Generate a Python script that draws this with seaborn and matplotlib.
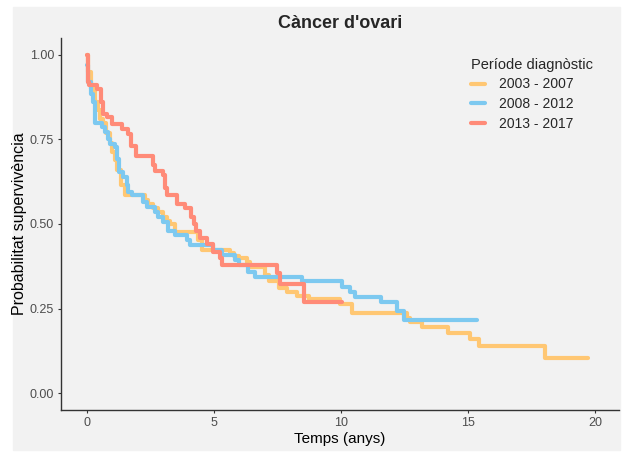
import pandas as pd
import numpy as np
import matplotlib
matplotlib.use("Agg")
import matplotlib.pyplot as plt
import seaborn as sns

# survival steps (time in years, survival probability)
t_0307 = [0.0, 0.05, 0.15, 0.3, 0.45, 0.5, 0.62, 0.75, 0.9, 1.0, 1.1, 1.2, 1.35, 1.5,
          2.29, 2.42, 2.6, 2.8, 3.0, 3.15, 3.27, 3.47, 4.39, 4.52, 5.64, 5.8, 5.97, 6.3,
          6.43, 7.02, 7.15, 7.55, 7.88, 8.27, 8.73, 9.98, 10.44, 12.6, 12.74, 13.2, 14.21,
          15.1, 15.43, 18.04, 19.71]
s_0307 = [1.0, 0.95, 0.9, 0.86, 0.836, 0.81, 0.8, 0.77, 0.74, 0.713, 0.69, 0.66, 0.614, 0.585,
          0.57, 0.56, 0.548, 0.536, 0.52, 0.51, 0.5, 0.477, 0.452, 0.423, 0.413, 0.405, 0.4, 0.388,
          0.374, 0.349, 0.33, 0.31, 0.3, 0.287, 0.277, 0.262, 0.238, 0.223, 0.209, 0.194, 0.177,
          0.159, 0.14, 0.105, 0.105]

t_0812 = [0.0, 0.05, 0.15, 0.25, 0.32, 0.58, 0.71, 0.83, 0.9, 1.1, 1.17, 1.27, 1.42, 1.57,
          1.62, 1.76, 2.2, 2.35, 2.68, 2.8, 3.0, 3.2, 3.47, 3.93, 4.06, 4.98, 5.31, 5.84, 5.97,
          6.36, 6.63, 8.45, 10.05, 10.37, 10.57, 11.58, 12.19, 12.48, 15.37]
s_0812 = [0.97, 0.92, 0.885, 0.86, 0.8, 0.787, 0.772, 0.752, 0.737, 0.728, 0.693, 0.655, 0.64, 0.614,
          0.595, 0.585, 0.566, 0.551, 0.536, 0.52, 0.507, 0.478, 0.467, 0.452, 0.437, 0.423, 0.408, 0.393, 0.378,
          0.357, 0.342, 0.33, 0.315, 0.3, 0.283, 0.268, 0.243, 0.216, 0.216]

t_1317 = [0.0, 0.03, 0.06, 0.1, 0.39, 0.55, 0.65, 0.8, 1.0, 1.38, 1.6, 1.75, 1.93, 2.62, 2.7,
          3.0, 3.08, 3.15, 3.55, 3.87, 4.1, 4.2, 4.3, 4.45, 4.72, 4.98, 5.25, 5.3, 7.48, 7.61,
          8.53, 10.05]
s_1317 = [1.0, 0.96, 0.92, 0.91, 0.9, 0.86, 0.826, 0.817, 0.796, 0.782, 0.767, 0.73, 0.7, 0.675, 0.658,
          0.644, 0.605, 0.587, 0.56, 0.546, 0.52, 0.5, 0.478, 0.46, 0.442, 0.418, 0.398, 0.38, 0.354, 0.322,
          0.268, 0.268]

periods = ["2003 - 2007", "2008 - 2012", "2013 - 2017"]
colors = ["#FFC773", "#7DC9F0", "#FF8B78"]

df = pd.concat([
    pd.DataFrame({"temps": t_0307, "surv": s_0307, "periode": periods[0]}),
    pd.DataFrame({"temps": t_0812, "surv": s_0812, "periode": periods[1]}),
    pd.DataFrame({"temps": t_1317, "surv": s_1317, "periode": periods[2]}),
])

sns.set_theme(style="white")
plt.rcParams["font.family"] = ["Liberation Sans", "DejaVu Sans"]

bg = "#F2F2F2"
fig = plt.figure(figsize=(6.29, 4.53), dpi=100, facecolor="white")
fig.patches.append(plt.Rectangle((13 / 629, 3 / 453), 607 / 629, 443 / 453,
                                 transform=fig.transFigure, color=bg, zorder=-10))
ax = fig.add_axes([61 / 629, 43 / 453, 558 / 629, 372 / 453])
ax.set_facecolor(bg)

sns.lineplot(data=df, x="temps", y="surv", hue="periode", palette=dict(zip(periods, colors)),
             estimator=None, sort=False, drawstyle="steps-post", linewidth=3, ax=ax)

ax.set_xlim(-1.02, 20.95)
ax.set_ylim(-0.05, 1.05)
ax.set_xticks([0, 5, 10, 15, 20])
ax.set_yticks([0, 0.25, 0.5, 0.75, 1.0])
ax.set_yticklabels(["0.00", "0.25", "0.50", "0.75", "1.00"])
ax.tick_params(axis="both", length=2.5, width=0.8, color="#333333", labelcolor="#4D4D4D",
               labelsize=9, bottom=True, left=True, pad=2.5)
sns.despine(ax=ax)
for sp in ["left", "bottom"]:
    ax.spines[sp].set_color("#333333")
    ax.spines[sp].set_linewidth(1.0)

ax.set_xlabel("Temps (anys)", fontsize=11, color="black", labelpad=2)
ax.set_ylabel("Probabilitat supervivència", fontsize=11.5, color="black", labelpad=2)
ax.set_title("Càncer d'ovari", fontsize=13, fontweight="bold", pad=7)

leg = ax.legend(title="Període diagnòstic", frameon=False, loc="upper left",
                bbox_to_anchor=(0.712, 0.98), fontsize=10, title_fontsize=10.5,
                handlelength=1.0, handletextpad=1.0, labelspacing=0.4)
leg._legend_box.align = "left"

fig.savefig("out.png", dpi=100, facecolor="white")
